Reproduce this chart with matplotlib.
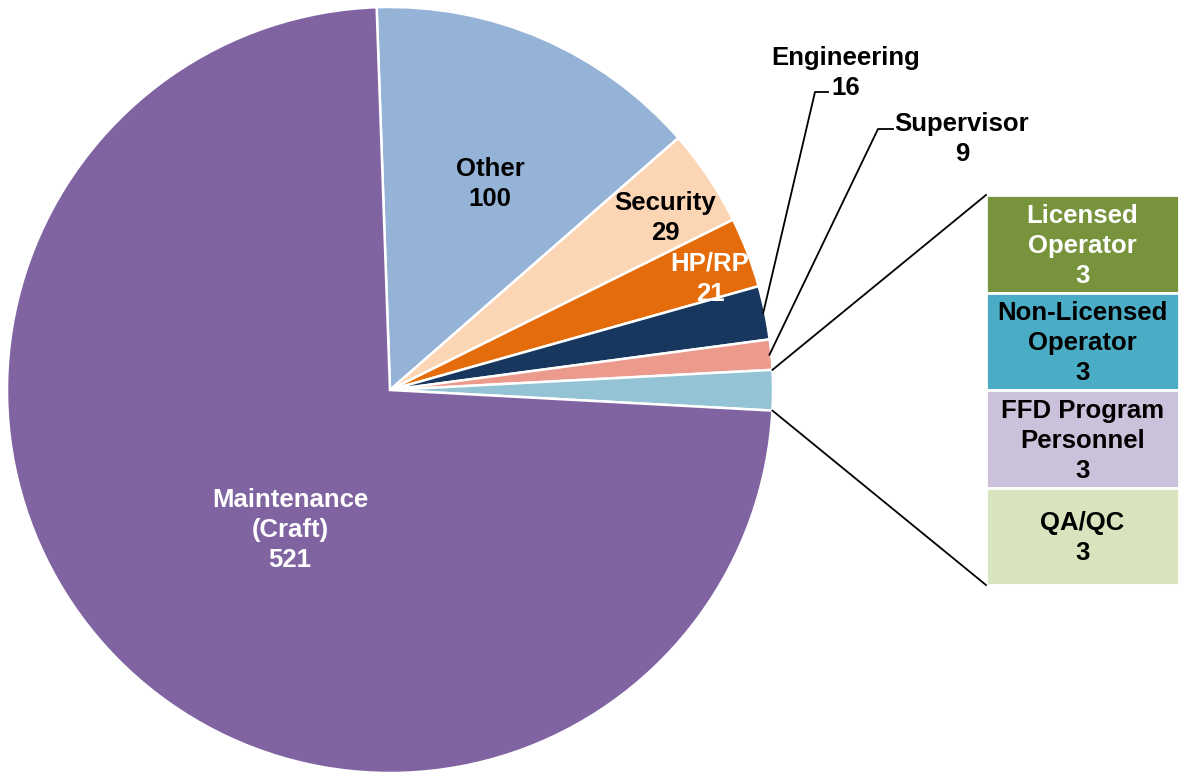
import numpy as np
import matplotlib
matplotlib.use('Agg')
import matplotlib.pyplot as plt

# Pie slices, clockwise from the top
pie_labels = ['Other', 'Security', 'HP/RP', 'Engineering', 'Supervisor', 'Operators etc.', 'Maintenance\n(Craft)']
pie_values = [100, 29, 21, 16, 9, 12, 521]
pie_colors = ['#95B3D7', '#FCD5B5', '#E46C0A', '#17375E', '#EC9A8C', '#93C3D4', '#8064A2']

# Breakdown of the small grouped slice
bar_labels = ['Licensed\nOperator', 'Non-Licensed\nOperator', 'FFD Program\nPersonnel', 'QA/QC']
bar_values = [3, 3, 3, 3]
bar_colors = ['#77933C', '#4BACC6', '#CCC1DA', '#D7E4BD']
bar_text_colors = ['white', 'black', 'black', 'black']

plt.rcParams['font.family'] = ['Liberation Sans', 'DejaVu Sans']
fig = plt.figure(figsize=(11.79, 7.73), dpi=100)
ax = fig.add_axes([0, 0, 1, 1])

cx, cy, r = 390, 383, 383
wedges, _ = ax.pie(pie_values, colors=pie_colors, startangle=92, counterclock=False,
                   center=(cx, cy), radius=r, frame=True,
                   wedgeprops=dict(edgecolor='white', linewidth=1.8))
ax.set_xlim(0, 1179)
ax.set_ylim(0, 773)
ax.set_aspect('equal')
ax.axis('off')

fs = 18.5
bold = dict(fontsize=fs, fontweight='bold', ha='center', va='center', linespacing=1.32)
dy = -2  # nudge multiline labels down a little

# labels inside the big slices
ax.text(490, 773 - 182 + dy, 'Other\n%d' % pie_values[0], color='black', **bold)
ax.text(665, 773 - 216 + dy, 'Security\n%d' % pie_values[1], color='black', **bold)
ax.text(710, 773 - 277 + dy, 'HP/RP\n%d' % pie_values[2], color='white', **bold)
ax.text(290, 773 - 528 + dy, 'Maintenance\n(Craft)\n%d' % pie_values[6], color='white', **bold)

# labels with leader lines for the thin slices
def edge_point(w, frac=1.0):
    ang = np.deg2rad((w.theta1 + w.theta2) / 2)
    return cx + r * frac * np.cos(ang), cy + r * frac * np.sin(ang)

ex, ey = edge_point(wedges[3], 0.995)
ax.plot([ex, 815, 828], [ey, 773 - 92, 773 - 92], color='black', lw=1.3)
ax.text(846, 773 - 71 + dy, 'Engineering\n%d' % pie_values[3], color='black', **bold)

sx, sy = edge_point(wedges[4], 0.995)
ax.plot([sx, 878, 893], [sy, 773 - 129, 773 - 129], color='black', lw=1.3)
ax.text(962, 773 - 137 + dy, 'Supervisor\n%d' % pie_values[4], color='black', **bold)

# stacked bar for the grouped slice
bar_left, bar_right = 986, 1179
bar_top, bar_bottom = 773 - 195, 773 - 585
unit = (bar_top - bar_bottom) / sum(bar_values)
bottoms = bar_top - np.cumsum(bar_values) * unit
heights = np.array(bar_values) * unit
ax.bar([(bar_left + bar_right) / 2] * len(bar_values), heights, bottom=bottoms,
       width=bar_right - bar_left, color=bar_colors, edgecolor='white', linewidth=2)
for lab, v, b, h, tc in zip(bar_labels, bar_values, bottoms, heights, bar_text_colors):
    ax.text((bar_left + bar_right) / 2, b + h / 2 + dy, '%s\n%d' % (lab, v), color=tc, **bold)

# connector lines from the grouped slice to the bar
g = wedges[5]
t1 = np.deg2rad(g.theta2)
t2 = np.deg2rad(g.theta1)
ax.plot([cx + r * np.cos(t1), bar_left], [cy + r * np.sin(t1), bar_top], color='black', lw=1.3)
ax.plot([cx + r * np.cos(t2), bar_left], [cy + r * np.sin(t2), bar_bottom], color='black', lw=1.3)

fig.savefig('out.png', dpi=100)
